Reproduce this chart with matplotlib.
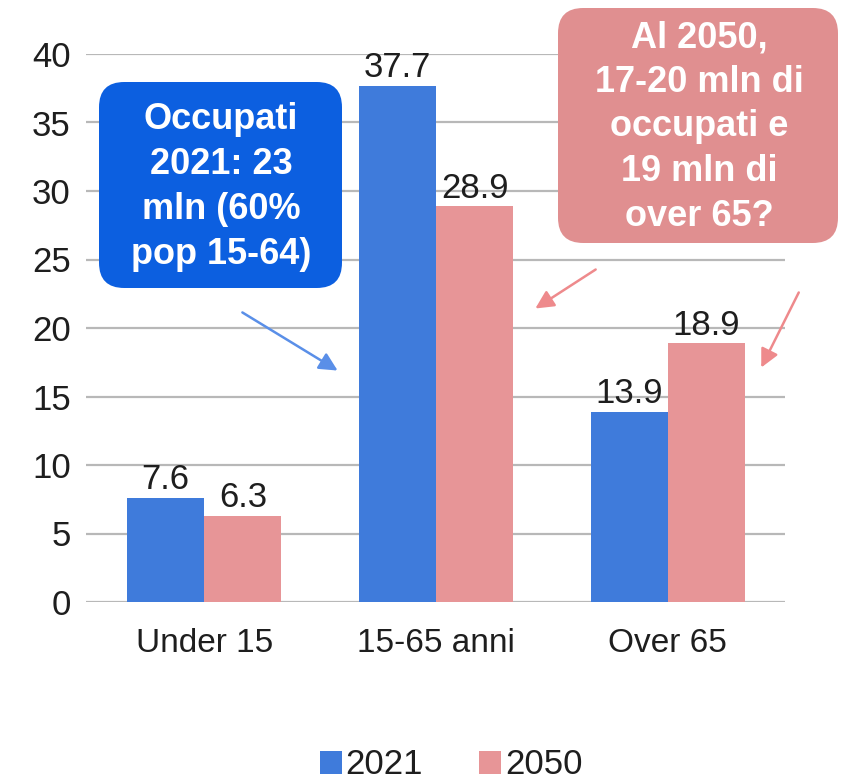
import matplotlib
matplotlib.use("Agg")
import matplotlib.pyplot as plt
from matplotlib.patches import Patch, FancyBboxPatch, FancyArrowPatch
import numpy as np

categories = ["Under 15", "15-65 anni", "Over 65"]
series_names = ["2021", "2050"]
values_2021 = [7.6, 37.7, 13.9]
values_2050 = [6.3, 28.9, 18.9]
yticks = [0, 5, 10, 15, 20, 25, 30, 35, 40]
note_blue = "Occupati\n2021: 23\nmln (60%\npop 15-64)"
note_pink = "Al 2050,\n17-20 mln di\noccupati e\n19 mln di\nover 65?"

plt.rcParams['font.family'] = ['Liberation Sans', 'DejaVu Sans']

BLUE = '#3f7bdb'
PINK = '#e79597'
TXT = '#1e1e1e'

fig = plt.figure(figsize=(8.41, 7.84), dpi=100)
ax = fig.add_axes([86/841, 1-602/784, 699/841, 548/784])

x = np.arange(len(categories))
w = 0.333
b1 = ax.bar(x - w/2, values_2021, w, color=BLUE, zorder=3)
b2 = ax.bar(x + w/2, values_2050, w, color=PINK, zorder=3)
ax.bar_label(b1, labels=[f"{v:.1f}" for v in values_2021], padding=1, fontsize=25, color=TXT, zorder=4)
ax.bar_label(b2, labels=[f"{v:.1f}" for v in values_2050], padding=1, fontsize=25, color=TXT, zorder=4)

ax.set_xlim(-0.51, 2.505)
ax.set_ylim(0, 40)
ax.set_yticks(yticks)
ax.set_yticklabels([str(t) for t in yticks], fontsize=25, color=TXT)
ax.set_xticks(x)
ax.set_xticklabels(categories, fontsize=24, color=TXT)
ax.tick_params(axis='y', length=0, pad=11)
ax.tick_params(axis='x', length=0, pad=19)
ax.grid(axis='y', color='#b8b8b8', linewidth=1.6, zorder=0)
for s in ax.spines.values():
    s.set_visible(False)

def fig_px(px, py):
    return (px/841, 1-py/784)

def rbox(x0, y0, x1, y1, color):
    (fx0, fy1) = fig_px(x0, y0)
    (fx1, fy0) = fig_px(x1, y1)
    p = FancyBboxPatch((fx0, fy0), fx1-fx0, fy1-fy0,
                       boxstyle="round,pad=0,rounding_size=0.03",
                       transform=fig.transFigure, facecolor=color,
                       edgecolor='none', zorder=5, mutation_aspect=841/784)
    fig.patches.append(p)

rbox(99, 82, 342, 288, '#0c5fe0')
fig.text(*fig_px(221, 187), note_blue, ha='center', va='center', color='white',
         fontsize=26, fontweight='bold', linespacing=1.36, zorder=6)

rbox(558, 8, 838, 243, '#e08f90')
fig.text(*fig_px(699, 127), note_pink, ha='center', va='center', color='white',
         fontsize=26, fontweight='bold', linespacing=1.36, zorder=6)

def arrow(x0, y0, x1, y1, color):
    fig.add_artist(FancyArrowPatch(
        fig_px(x0, y0), fig_px(x1, y1), transform=fig.transFigure,
        arrowstyle='-|>,head_length=11,head_width=5.5', mutation_scale=1,
        color=color, linewidth=1.8, zorder=7))

arrow(240, 311, 340, 372, '#5a8fe8')
arrow(598, 268, 533, 310, '#ee8a8c')
arrow(800, 290, 760, 370, '#ee8a8c')

handles = [Patch(facecolor=BLUE, edgecolor='none'), Patch(facecolor=PINK, edgecolor='none')]
fig.legend(handles, series_names, loc='center', bbox_to_anchor=fig_px(451, 765),
           ncol=2, frameon=False, fontsize=25, handlelength=0.65, handleheight=0.65,
           handletextpad=0.1, columnspacing=1.6, labelcolor=TXT)

fig.savefig("out.png", dpi=100)
